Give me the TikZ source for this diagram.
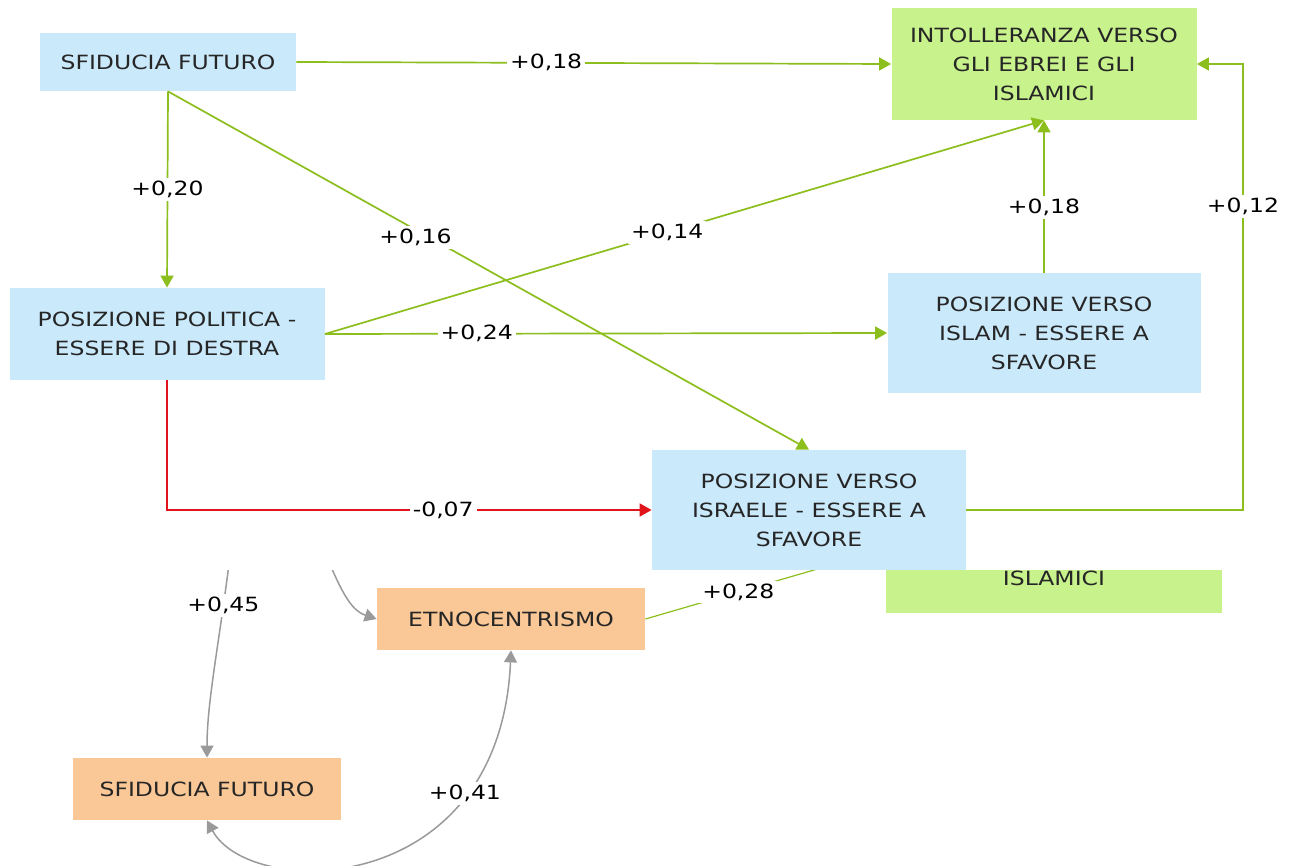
\documentclass[tikz,border=0pt]{standalone}
\usepackage{fontspec}
\setmainfont[FakeStretch=1.2]{DejaVu Sans}
\usepackage{tikz}
\usetikzlibrary{positioning}
\usetikzlibrary{arrows.meta}
\definecolor{azzurro}{HTML}{CAE9FB}
\definecolor{verdino}{HTML}{C8F28C}
\definecolor{arancio}{HTML}{FAC896}
\definecolor{verde}{HTML}{8CBF1E}
\definecolor{rosso}{HTML}{E2141B}
\definecolor{grigio}{HTML}{9A9A9A}
\newcommand{\carattere}{\fontsize{9.8}{14.5}\selectfont}

\begin{document}
\begin{tikzpicture}[x=0.5pt,y=-0.5pt]
% definizione degli stili
\tikzstyle scatola=[inner sep=0pt,align=center,text=black!85,font=\carattere]
\tikzstyle scatolablu=[scatola,fill=azzurro]
\tikzstyle scatolaverde=[scatola,fill=verdino]
\tikzstyle scatolaarancio=[scatola,fill=arancio]
\tikzstyle etichetta=[fill=white,inner sep=1.5pt,text=black,font=\carattere]
\tikzstyle freccia=[draw=verde,line width=0.85pt,-{Triangle[length=6pt,width=6.5pt]}]
\tikzstyle frecciarossa=[draw=rosso,line width=0.85pt,-{Triangle[length=6pt,width=6.5pt]}]
\tikzstyle frecciagrigia=[draw=grigio,line width=0.75pt,-{Triangle[length=6pt,width=6.5pt]}]
\newcommand{\altezzacopertura}{570} % dove finisce il foglio bianco sopra

\useasboundingbox (0,0) rectangle (1295,866);
\fill[white] (0,0) rectangle (1295,866);

% lo schema di sotto (in parte coperto)
\node[scatolaverde,minimum width=168pt,minimum height=64pt] (intolbasso) at (1054,549) {INTOLLERANZA VERSO\\GLI EBREI E GLI\\ISLAMICI};
\node[scatolaarancio,minimum width=134pt,minimum height=31pt] (etno) at (511,619) {ETNOCENTRISMO};
\node[scatolaarancio,minimum width=134pt,minimum height=31pt] (sfor) at (207,789) {SFIDUCIA FUTURO};
\coordinate (sopra1) at (232,540);
\coordinate (sopra2) at (320,540);
\coordinate (sotto3) at (900,545);
\draw[frecciagrigia] (sopra1) .. controls (220,640) and (207,700) .. node[etichetta,pos=0.24]{+0,45} (sfor.north);
\draw[frecciagrigia] (sopra2) .. controls (340,590) and (350,610) .. (etno.west);
\draw[frecciagrigia,{Triangle[length=6pt,width=6.5pt]}-{Triangle[length=6pt,width=6.5pt]}] (sfor.south) .. controls (250,900) and (500,900) .. node[etichetta,pos=0.75]{+0,41} (etno.south);
\draw[draw=verde,line width=0.6pt] (etno.east) -- node[etichetta,pos=0.365]{+0,28} (sotto3);

% il foglio bianco
\fill[white] (0,0) rectangle (1295,\altezzacopertura);

% i nodi
\node[scatolablu,minimum width=128pt,minimum height=29pt] (sfid) at (168,62) {SFIDUCIA FUTURO};
\node[scatolaverde,minimum width=152.5pt,minimum height=56pt] (intol) at (1044,64) {INTOLLERANZA VERSO\\GLI EBREI E GLI\\ISLAMICI};
\node[scatolablu,minimum width=157.5pt,minimum height=46pt] (polit) at (167,334) {POSIZIONE POLITICA -\\ESSERE DI DESTRA};
\node[scatolablu,minimum width=156.5pt,minimum height=59.5pt] (islam) at (1044,333) {POSIZIONE VERSO\\ISLAM - ESSERE A\\SFAVORE};
\node[scatolablu,minimum width=157pt,minimum height=60pt] (isra) at (809,510) {POSIZIONE VERSO\\ISRAELE - ESSERE A\\SFAVORE};
\coordinate (angolo) at (1243,64);

% le frecce
\draw[freccia] (sfid.east) -- node[etichetta,pos=0.42]{+0,18} (intol.west);
\draw[freccia] (sfid.south) -- node[etichetta]{+0,20} (polit.north);
\draw[freccia] (sfid.south) -- node[etichetta,pos=0.386,yshift=-4pt]{+0,16} (isra.north);
\draw[freccia] (polit.east) -- node[etichetta,pos=0.476]{+0,14} (intol.south);
\draw[freccia] (polit.east) -- node[etichetta,pos=0.27]{+0,24} (islam.west);
\draw[freccia] (islam.north) -- node[etichetta,pos=0.43]{+0,18} (intol.south);
\draw[freccia] (isra.east) -| node[etichetta,pos=0.84]{+0,12} (angolo) -- (intol.east);
\draw[frecciarossa] (polit.south) |- node[etichetta,pos=0.785]{-0,07} (isra.west);
\end{tikzpicture}
\end{document}
